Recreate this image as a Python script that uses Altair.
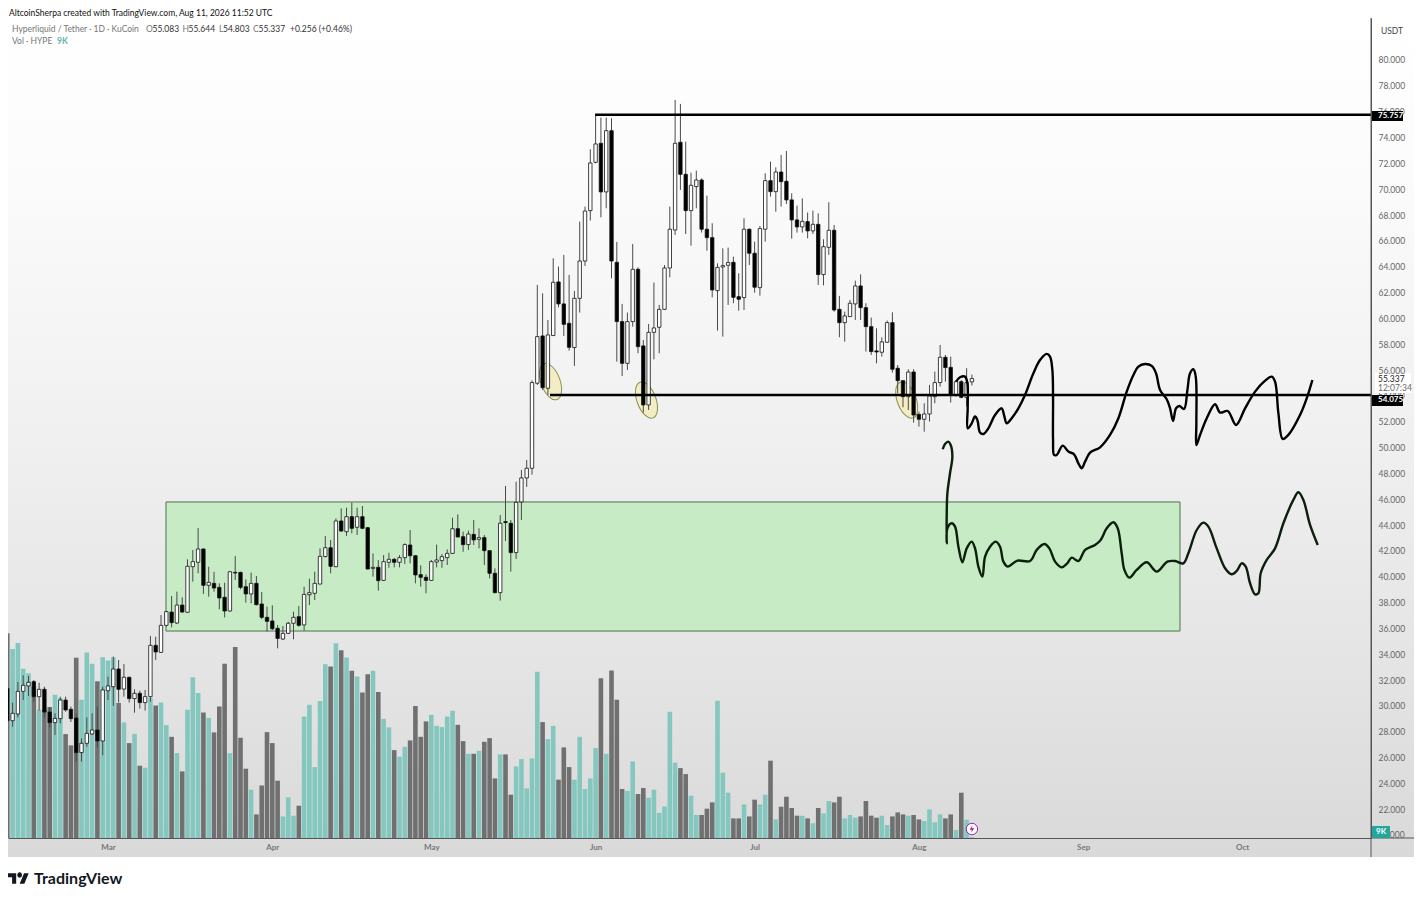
import altair as alt
import pandas as pd

FONT = 'Lato'

# daily candles, first one is 19 days before Mar 1 (day 0)
opens = [
    31.36, 28.86, 29.38, 31.13, 31.55, 31.88, 30.72, 31.29, 29.53, 28.71,
    29.02, 30.46, 29.74, 29.07, 26.39, 27.11, 27.83, 28.14, 27.29, 31.18,
    31.49, 32.86, 31.31, 32.22, 30.57, 30.98, 30.26, 30.72, 34.69, 34.15,
    36.24, 37.27, 36.42, 37.81, 37.25, 40.78, 41.12, 42.15, 39.34, 39.49,
    39.18, 38.41, 37.35, 40.34, 40.34, 39.23, 38.67, 39.49, 37.89, 36.86,
    36.58, 36.01, 35.18, 35.62, 36.40, 36.91, 36.27, 38.61, 38.72, 39.44,
    41.56, 42.25, 40.78, 44.32, 43.49, 44.65, 43.83, 44.65, 43.80, 40.65,
    40.73, 39.72, 41.12, 41.35, 41.12, 41.48, 42.46, 41.63, 40.16, 39.96,
    39.72, 41.14, 41.25, 41.48, 41.81, 43.72, 43.10, 42.49, 43.28, 42.90,
    43.03, 42.02, 40.27, 38.77, 44.27, 44.14, 41.87, 45.79, 47.65, 48.40,
    54.98, 58.64, 54.59, 58.67, 62.82, 61.12, 59.62, 57.74, 61.55, 64.44,
    68.34, 72.08, 73.55, 69.79, 74.53, 64.34, 59.75, 56.52, 59.75, 63.80,
    57.87, 53.30, 58.92, 59.31, 60.70, 63.90, 66.84, 73.63, 71.15, 68.34,
    70.20, 70.71, 66.90, 66.25, 62.15, 63.98, 64.11, 64.34, 61.68, 61.61,
    66.90, 65.04, 62.38, 66.90, 70.66, 69.81, 71.33, 70.61, 69.17, 67.62,
    67.08, 67.49, 66.77, 67.28, 63.39, 65.50, 66.82, 60.70, 59.67, 60.14,
    61.12, 62.51, 60.83, 59.36, 57.48, 57.38, 58.15, 59.67, 56.14, 55.18,
    53.94, 55.85, 52.57, 52.19, 52.60, 53.94, 55.03, 56.99, 56.21, 54.07,
    55.10, 53.87, 55.083,
]
highs = [
    31.62, 30.26, 31.86, 32.37, 32.32, 32.01, 31.80, 31.49, 29.89, 29.43,
    30.72, 30.72, 29.95, 29.43, 27.49, 29.12, 29.43, 29.95, 31.49, 32.27,
    33.82, 33.56, 33.25, 32.27, 31.29, 31.18, 31.24, 35.42, 35.36, 37.04,
    37.38, 38.51, 38.85, 38.41, 41.35, 42.07, 43.77, 42.20, 40.78, 40.39,
    39.49, 39.54, 40.45, 41.61, 40.39, 39.80, 40.32, 40.06, 38.82, 37.69,
    37.79, 36.27, 36.19, 36.52, 37.30, 37.74, 39.23, 39.85, 40.39, 42.20,
    43.16, 42.85, 44.52, 45.30, 45.35, 45.74, 45.35, 45.48, 43.85, 41.81,
    41.29, 41.68, 41.86, 41.45, 41.68, 42.59, 43.62, 41.66, 40.89, 40.19,
    41.30, 42.49, 41.76, 42.12, 44.57, 44.83, 43.49, 43.57, 44.39, 43.75,
    43.23, 42.07, 40.65, 44.78, 47.03, 44.39, 47.36, 48.27, 49.04, 55.20,
    62.59, 61.94, 59.88, 64.65, 64.01, 64.91, 63.36, 62.12, 67.49, 68.65,
    73.09, 75.67, 75.54, 75.54, 75.49, 65.92, 61.12, 60.45, 65.76, 63.95,
    58.33, 59.57, 62.77, 61.04, 64.13, 68.65, 76.91, 76.60, 73.68, 71.28,
    71.44, 70.84, 69.50, 67.36, 64.26, 65.42, 65.48, 64.78, 63.49, 67.75,
    66.95, 65.94, 67.15, 71.23, 72.13, 71.69, 72.65, 72.96, 69.68, 68.73,
    69.29, 68.19, 68.34, 68.13, 66.12, 68.99, 67.23, 61.74, 60.52, 61.43,
    62.92, 63.41, 61.17, 60.06, 59.23, 58.54, 59.83, 60.47, 56.39, 55.23,
    56.06, 56.06, 52.78, 53.43, 54.85, 55.88, 57.94, 57.17, 57.04, 55.23,
    55.23, 56.14, 55.644,
]
lows = [
    28.78, 28.40, 29.12, 30.46, 30.77, 30.33, 29.64, 29.12, 28.35, 27.75,
    28.66, 29.56, 28.76, 25.69, 25.69, 26.85, 27.75, 26.80, 26.18, 30.46,
    30.00, 30.26, 30.72, 30.26, 29.48, 29.79, 29.64, 30.33, 33.56, 34.10,
    36.14, 36.09, 36.34, 37.22, 37.20, 39.62, 40.27, 38.67, 38.46, 38.85,
    37.48, 36.86, 37.30, 39.75, 39.03, 38.00, 37.94, 37.79, 36.71, 35.75,
    35.88, 34.46, 35.11, 35.57, 35.16, 36.14, 35.83, 37.81, 38.20, 39.40,
    41.50, 40.27, 40.74, 43.49, 43.16, 43.36, 43.23, 43.70, 40.57, 40.01,
    38.92, 39.67, 40.70, 40.73, 40.73, 40.99, 41.04, 39.49, 39.23, 38.72,
    39.70, 40.73, 40.70, 40.91, 41.76, 43.05, 41.94, 42.07, 42.46, 42.20,
    40.91, 39.88, 38.72, 38.15, 42.77, 40.40, 41.38, 44.40, 46.95, 47.90,
    54.85, 54.46, 54.07, 58.64, 60.86, 58.64, 57.50, 56.32, 60.45, 64.06,
    67.57, 72.00, 67.82, 68.52, 63.10, 56.65, 55.54, 56.01, 59.36, 57.30,
    52.71, 52.91, 56.83, 57.30, 60.65, 63.18, 66.46, 69.94, 66.53, 65.63,
    68.52, 66.64, 65.24, 61.63, 59.05, 58.59, 61.04, 61.17, 60.60, 60.65,
    64.13, 61.99, 61.76, 65.94, 69.42, 68.26, 68.65, 68.86, 66.17, 66.64,
    66.64, 66.20, 66.53, 62.59, 62.56, 64.91, 60.52, 58.54, 58.20, 60.10,
    59.88, 59.88, 57.43, 57.17, 56.52, 57.04, 58.12, 55.80, 54.20, 53.12,
    52.91, 51.93, 51.62, 51.23, 52.01, 53.43, 54.72, 55.10, 53.48, 53.94,
    53.81, 53.17, 54.803,
]
closes = [
    28.86, 29.43, 31.13, 31.60, 31.83, 30.72, 31.29, 29.53, 28.71, 29.04,
    30.46, 29.69, 29.02, 26.39, 27.11, 27.88, 28.14, 27.29, 31.24, 31.55,
    32.86, 31.29, 32.22, 30.57, 30.98, 30.26, 30.72, 34.69, 34.18, 36.24,
    37.30, 36.45, 37.81, 37.27, 40.81, 41.17, 42.15, 39.34, 39.57, 39.13,
    38.36, 37.35, 40.39, 40.29, 39.18, 38.67, 39.49, 37.84, 36.86, 36.55,
    35.98, 35.23, 35.62, 36.40, 36.86, 36.24, 38.64, 38.77, 39.49, 41.58,
    42.25, 40.81, 44.32, 43.54, 44.65, 43.75, 44.65, 43.75, 40.60, 40.73,
    39.70, 41.17, 41.35, 41.12, 41.48, 42.49, 41.63, 40.14, 39.96, 39.72,
    41.17, 41.30, 41.56, 41.81, 43.72, 43.08, 42.49, 43.31, 42.85, 43.03,
    42.02, 40.27, 38.77, 44.14, 44.19, 41.87, 45.76, 47.65, 48.40, 55.03,
    58.59, 54.64, 58.72, 62.79, 61.12, 59.54, 57.76, 61.55, 64.44, 68.31,
    72.03, 73.50, 69.79, 74.53, 64.44, 59.75, 56.52, 59.75, 63.80, 57.81,
    53.30, 58.92, 59.26, 60.70, 63.90, 66.90, 73.55, 71.15, 68.34, 70.30,
    70.71, 66.90, 66.25, 62.20, 63.95, 64.08, 64.32, 61.63, 61.48, 66.90,
    65.04, 62.41, 66.95, 70.66, 69.81, 71.33, 70.58, 69.17, 67.62, 67.08,
    67.51, 66.77, 67.28, 63.39, 65.55, 66.82, 60.65, 59.67, 60.19, 61.17,
    62.51, 60.83, 59.36, 57.43, 57.40, 58.18, 59.67, 56.06, 55.18, 53.94,
    55.85, 52.52, 52.19, 52.60, 54.00, 55.03, 56.99, 56.19, 54.07, 55.10,
    53.89, 55.03, 55.337,
]
# volume in thousands
volumes = [
    2048, 1891, 1951, 1692, 1648, 1515, 1282, 1282, 1309, 1432,
    1399, 1039, 926, 1802, 1382, 1855, 1742, 1568, 1808, 1775,
    1808, 1349, 1156, 949, 1042, 723, 703, 1399, 1325, 1355,
    1129, 1012, 849, 666, 1282, 1608, 1449, 1255, 1202, 1056,
    1315, 1742, 849, 1911, 1002, 693, 483, 236, 526, 1059,
    949, 573, 216, 406, 223, 323, 1215, 1332, 709, 1369,
    1738, 1715, 1948, 1878, 1805, 1672, 1615, 1455, 1638, 1672,
    1459, 1192, 1106, 879, 813, 912, 976, 1319, 1012, 1166,
    1232, 1122, 1109, 1215, 1272, 1132, 969, 842, 842, 872,
    962, 999, 596, 836, 836, 433, 716, 789, 496, 796,
    1662, 1159, 989, 1122, 583, 906, 709, 583, 1012, 490,
    596, 899, 1598, 842, 1675, 1382, 490, 470, 766, 440,
    500, 403, 483, 250, 316, 1262, 753, 699, 639, 423,
    230, 230, 293, 356, 1372, 653, 453, 196, 196, 336,
    216, 383, 336, 433, 773, 186, 313, 413, 300, 223,
    223, 196, 147, 300, 246, 370, 356, 413, 196, 230,
    203, 216, 370, 223, 203, 223, 130, 216, 256, 236,
    223, 230, 186, 170, 286, 157, 236, 196, 236, 80,
    453, 183, 9,
]
days = list(range(-19, 164))

# hand drawn paths, x in days after Mar 1
upper_days = [
    160.01, 160.76, 161.70, 162.14, 162.21, 162.21, 162.96, 163.59, 164.03, 164.53,
    165.16, 166.11, 167.36, 168.62, 169.06, 169.57, 170.51, 171.77, 173.02, 174.60,
    175.85, 177.11, 177.74, 178.18, 178.31, 178.31, 178.50, 179.00, 180.13, 181.20,
    182.27, 183.09, 183.72, 184.35, 185.29, 187.18, 189.06, 190.64, 192.21, 193.47,
    194.41, 195.67, 196.93, 197.74, 198.50, 199.76, 200.39, 200.95, 201.52, 202.15,
    203.03, 203.66, 204.16, 204.79, 205.23, 205.35, 205.35, 206.05, 207.31, 208.88,
    209.82, 211.27, 212.84, 214.54, 216.43, 218.32, 219.57, 220.20, 220.83, 221.64,
    222.71, 224.91, 226.17, 227.24,
]
upper_prices = [
    55.10, 55.44, 55.49, 54.98, 53.17, 51.49, 51.88, 52.40, 52.14, 51.16,
    51.05, 51.49, 52.52, 53.04, 52.52, 51.88, 52.27, 53.04, 54.07, 55.75,
    56.78, 57.25, 57.04, 56.01, 53.94, 50.59, 49.43, 49.43, 50.15, 49.69,
    49.48, 48.78, 48.40, 48.91, 49.61, 50.02, 50.98, 52.27, 54.33, 55.62,
    56.27, 56.47, 56.32, 55.75, 54.46, 53.74, 53.04, 52.06, 53.04, 53.22,
    52.99, 54.46, 55.75, 56.06, 55.49, 51.88, 50.20, 50.98, 52.27, 53.35,
    52.71, 52.83, 51.75, 53.04, 54.33, 55.18, 55.49, 55.10, 52.65, 50.67,
    50.98, 52.52, 53.81, 55.23,
]
lower_days = [
    157.49, 157.93, 158.56, 159.00, 159.31, 158.87, 158.37, 158.25, 158.25, 158.37,
    159.19, 159.82, 160.45, 161.20, 162.02, 162.96, 163.59, 164.22, 164.97, 165.48,
    166.42, 167.49, 168.31, 168.94, 169.75, 171.58, 173.97, 175.23, 176.67, 177.62,
    178.69, 179.94, 180.89, 181.83, 183.09, 184.35, 186.23, 187.30, 188.43, 189.69,
    190.51, 191.26, 191.77, 192.71, 194.09, 195.98, 197.87, 199.88, 201.33, 202.90,
    203.84, 205.42, 206.68, 207.62, 209.19, 210.77, 212.02, 212.96, 213.91, 214.66,
    215.48, 216.43, 217.05, 217.49, 218.62, 220.20, 221.77, 223.65, 224.60, 225.54,
    226.80, 228.25,
]
lower_prices = [
    49.87, 50.28, 50.46, 50.20, 49.30, 48.01, 46.46, 44.91, 42.59, 43.75,
    44.14, 43.88, 42.33, 41.12, 42.20, 42.72, 42.20, 40.79, 40.01, 41.56,
    42.33, 42.72, 42.33, 41.17, 40.79, 41.25, 41.22, 42.08, 42.54, 42.20,
    41.17, 40.73, 40.99, 41.48, 41.22, 42.08, 42.46, 42.85, 43.75, 44.22,
    43.75, 41.82, 40.53, 39.93, 40.53, 41.12, 40.40, 41.17, 41.22, 41.04,
    41.82, 43.62, 44.19, 43.88, 42.20, 40.66, 40.19, 40.45, 41.04, 40.79,
    39.50, 38.64, 38.72, 40.27, 41.30, 42.20, 44.14, 45.95, 46.54, 45.95,
    44.01, 42.46,
]

level_prices = [75.757, 54.075]
level_starts = [91.9, 83.4]
level_ends = [238.3, 238.3]

ellipse_days = [83.5, 101.6, 150.7]
ellipse_prices = [55.10, 53.68, 53.68]

month_days = [0, 31, 61, 92, 122, 153, 184, 214]
month_names = ['Mar', 'Apr', 'May', 'Jun', 'Jul', 'Aug', 'Sep', 'Oct']
# these sit under the price tags, so they get drawn below the tags and not by the axis
price_ticks = [22, 24, 26, 28, 30, 32, 34, 36, 38, 40, 42, 44, 46, 48, 50, 52, 56,
               58, 60, 62, 64, 66, 68, 70, 72, 74, 78, 80]
hidden_ticks = [20, 54, 76]
hidden_labels = ['20.000', '54.000', '76.000']

PRICE_MIN = 19.78
PRICE_MAX = 83.25
VOLUME_MAX = 8200

candles = pd.DataFrame({'day': days, 'open': opens, 'high': highs, 'low': lows,
                        'close': closes, 'volume': volumes})
candles['dir'] = ['up' if c > o else 'down' for o, c in zip(opens, closes)]
# volume pane shares the price scale, so put the bars on it
candles['vol_top'] = PRICE_MIN + candles['volume'] / VOLUME_MAX * (PRICE_MAX - PRICE_MIN)
candles['vol_base'] = PRICE_MIN

upper = pd.DataFrame({'day': upper_days, 'price': upper_prices, 'n': range(len(upper_days))})
lower = pd.DataFrame({'day': lower_days, 'price': lower_prices, 'n': range(len(lower_days))})
levels = pd.DataFrame({'price': level_prices, 'start': level_starts, 'end': level_ends})
ellipses = pd.DataFrame({'day': ellipse_days, 'price': ellipse_prices})
box = pd.DataFrame({'x': [10.94], 'x2': [202.26], 'y': [45.79], 'y2': [35.80]})
hidden = pd.DataFrame({'price': hidden_ticks, 't': hidden_labels})

# chart origin sits at page (8, 18)
W = 1363
H = 820
x_scale = alt.Scale(domain=[-18.87, 238.3], nice=False, zero=False, padding=0)
y_scale = alt.Scale(domain=[PRICE_MIN, PRICE_MAX], nice=False, zero=False)

month_labels = "[" + ",".join("'%s'" % m for m in month_names) + "]"
month_index = "[" + ",".join(str(d) for d in month_days) + "]"
x_axis = alt.Axis(
    values=month_days, title=None, grid=False, ticks=False, labelFont=FONT, labelFontSize=8,
    labelFontWeight='bold', labelColor='#777777', labelPadding=5, domainColor='#555555',
    labelExpr=month_labels + "[indexof(" + month_index + ",datum.value)]", zindex=1,
)
y_axis = alt.Axis(
    orient='right', values=price_ticks, title=None, grid=False, ticks=False, format='.3f',
    labelFont=FONT, labelFontSize=8.5, labelColor='#666666', labelPadding=7, labelOverlap=False,
    labelBound=False, labelFlush=False, domainColor='#555555', zindex=1,
)
X = alt.X('day:Q', scale=x_scale, axis=x_axis)
Y = alt.Y('price:Q', scale=y_scale, axis=y_axis)


def label(text, px, py, color='#666666', size=8, weight='normal', align='left'):
    # px, py are page positions
    return alt.Chart(pd.DataFrame({'t': [text]})).mark_text(
        align=align, baseline='middle', font=FONT, fontSize=size, fontWeight=weight, color=color
    ).encode(x=alt.value(px - 8), y=alt.value(py - 18), text='t:N')


def tag(px, px2, py, py2, color):
    return alt.Chart(pd.DataFrame({'a': [0]})).mark_rect(fill=color).encode(
        x=alt.value(px - 8), x2=alt.value(px2 - 8), y=alt.value(py - 18), y2=alt.value(py2 - 18)
    )


def page_rule(px, px2, py, py2):
    return alt.Chart(pd.DataFrame({'a': [0]})).mark_rule(color='#555555', strokeWidth=1).encode(
        x=alt.value(px - 8), x2=alt.value(px2 - 8), y=alt.value(py - 18), y2=alt.value(py2 - 18)
    )


background = alt.Chart(pd.DataFrame({'a': [0]})).mark_rect(
    fill=alt.LinearGradient(
        gradient='linear', x1=0, x2=0, y1=0, y2=1,
        stops=[
            alt.GradientStop(color='#ffffff', offset=0),
            alt.GradientStop(color='#fbfbfb', offset=0.2),
            alt.GradientStop(color='#f0f0f0', offset=0.5),
            alt.GradientStop(color='#e3e3e3', offset=0.8),
            alt.GradientStop(color='#d9d9d9', offset=1),
        ],
    )
).encode(x=alt.value(-1), x2=alt.value(1407), y=alt.value(0), y2=alt.value(839))

volume_bars = alt.Chart(candles).mark_bar(size=4.6).encode(
    x=X,
    y=alt.Y('vol_top:Q', scale=y_scale, axis=y_axis),
    y2='vol_base:Q',
    color=alt.Color('dir:N', scale=alt.Scale(domain=['up', 'down'], range=['#84c7bf', '#707070']), legend=None),
)

green_box = alt.Chart(box).mark_rect(fill='#c6ebc5', stroke='#4f6f4f', strokeWidth=1).encode(
    x=alt.X('x:Q', scale=x_scale, axis=x_axis), x2='x2:Q',
    y=alt.Y('y:Q', scale=y_scale, axis=y_axis), y2='y2:Q',
)

ellipse_marks = alt.Chart(ellipses).mark_point(
    shape='M-0.5,0 A0.5,1 0 1,1 0.5,0 A0.5,1 0 1,1 -0.5,0 Z',
    filled=True, fill='#f2edc4', stroke='#8f8f55', strokeWidth=1, opacity=1, size=1444, angle=340,
).encode(x=X, y=Y)

wicks = alt.Chart(candles).mark_rule(color='#4a4a4a', strokeWidth=1).encode(
    x=X, y=alt.Y('low:Q', scale=y_scale, axis=y_axis), y2='high:Q',
)
bodies = alt.Chart(candles).mark_bar(size=3.4, stroke='#111111', strokeWidth=0.8).encode(
    x=X,
    y=alt.Y('open:Q', scale=y_scale, axis=y_axis), y2='close:Q',
    fill=alt.Fill('dir:N', scale=alt.Scale(domain=['up', 'down'], range=['#ffffff', '#000000']), legend=None),
)

level_lines = alt.Chart(levels).mark_rule(color='#000000', strokeWidth=2.4).encode(
    x=alt.X('start:Q', scale=x_scale, axis=x_axis), x2='end:Q',
    y=alt.Y('price:Q', scale=y_scale, axis=y_axis),
)

upper_path = alt.Chart(upper).mark_line(color='#000000', strokeWidth=2.4, interpolate='catmull-rom').encode(
    x=X, y=Y, order='n:Q'
)
lower_path = alt.Chart(lower).mark_line(color='#0c1f0c', strokeWidth=2.4, interpolate='catmull-rom').encode(
    x=X, y=Y, order='n:Q'
)

badge = alt.Chart(candles.tail(1)).mark_point(
    shape='circle', filled=True, fill='#ffffff', stroke='#9c27b0', strokeWidth=1, opacity=1, size=130
).encode(x=X, y=alt.value(829 - 18))
bolt = alt.Chart(candles.tail(1)).mark_point(
    shape='M0.15,-1 L-0.7,0.2 L-0.05,0.2 L-0.15,1 L0.7,-0.2 L0.05,-0.2 Z',
    filled=True, fill='#9c27b0', strokeWidth=0, opacity=1, size=49,
).encode(x=X, y=alt.value(829 - 18))

hidden_text = alt.Chart(hidden).mark_text(
    align='left', baseline='middle', font=FONT, fontSize=8.5, color='#666666'
).encode(x=alt.value(1378 - 8), y=alt.Y('price:Q', scale=y_scale, axis=y_axis), text='t:N')

logo = alt.Chart(pd.DataFrame({'a': [0]})).mark_point(
    shape='M-0.22,0.5 L-0.61,0.5 L-0.61,-0.11 L-1,-0.11 L-1,-0.5 L-0.22,-0.5 Z '
          'M0.556,0.5 L0.11,0.5 L0.528,-0.5 L0.972,-0.5 Z '
          'M-0.11,-0.333 A0.222,0.222 0 1,1 0.33,-0.333 A0.222,0.222 0 1,1 -0.11,-0.333 Z',
    filled=True, fill='#131722', strokeWidth=0, opacity=1, size=441,
).encode(x=alt.value(18.5 - 8), y=alt.value(878.5 - 18))

chart = alt.layer(
    background,
    volume_bars,
    ellipse_marks,
    green_box,
    lower_path,
    wicks,
    bodies,
    level_lines,
    upper_path,
    badge,
    bolt,
    page_rule(1371, 1415, 838, 838),
    page_rule(1371, 1371, 18, 857),
    hidden_text,
    tag(1372, 1403, 111, 121, '#000000'),
    label('75.757', 1378, 116, color='#ffffff', weight='bold'),
    tag(1375, 1411, 373, 393, '#ffffff'),
    label('55.337', 1378, 379, color='#222222', size=8.5),
    label('12:07:34', 1378, 388, color='#666666', size=8.5),
    tag(1372, 1403, 395, 406, '#000000'),
    label('54.075', 1378, 400, color='#ffffff', weight='bold'),
    tag(1372, 1390, 826, 838, '#26a69a'),
    label('9K', 1376, 832, color='#ffffff', weight='bold'),
    label('USDT', 1381, 31, color='#444444', size=8.5),
    label('AltcoinSherpa created with TradingView.com, Aug 11, 2026 11:52 UTC', 9, 13, color='#111111', size=8.5),
    label('Hyperliquid / Tether · 1D · KuCoin', 12, 29, color='#777777', size=8.5),
    label('O', 146, 29, color='#777777', size=8.5),
    label('55.083', 152.5, 29, color='#333333', size=8.5),
    label('H', 182.5, 29, color='#777777', size=8.5),
    label('55.644', 188.5, 29, color='#333333', size=8.5),
    label('L', 219, 29, color='#777777', size=8.5),
    label('54.803', 223, 29, color='#333333', size=8.5),
    label('C', 253, 29, color='#777777', size=8.5),
    label('55.337', 258.5, 29, color='#333333', size=8.5),
    label('+0.256 (+0.46%)', 290, 29, color='#333333', size=8.5),
    label('Vol · HYPE', 12, 41, color='#777777', size=8.5),
    label('9K', 57, 41, color='#5fb8ad', size=8.5, weight='bold'),
    logo,
    label('TradingView', 34, 879, color='#131722', size=16, weight='bold'),
).properties(
    width=W,
    height=H,
    padding={'left': 0, 'top': 10, 'right': 43, 'bottom': 50},
    autosize='none',
    background='#ffffff',
).configure_view(
    stroke=None
)

chart.save("out.html", embed_options={"renderer": "svg", "actions": False})
